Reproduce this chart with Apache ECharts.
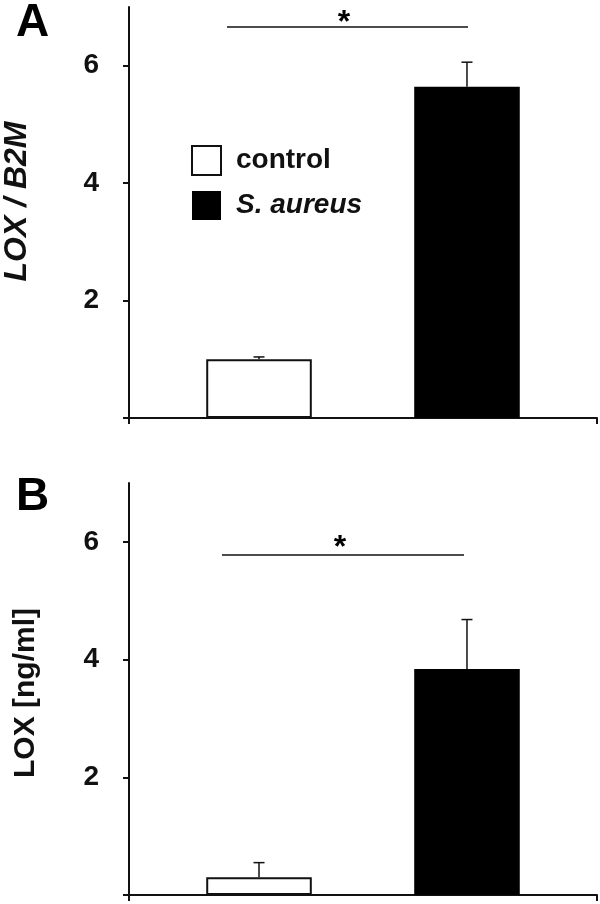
<!DOCTYPE html>
<html>
<head>
<meta charset="utf-8">
<script src="https://cdn.jsdelivr.net/npm/echarts@6/dist/echarts.min.js"></script>
<style>
  html, body { margin: 0; padding: 0; background: #fff; }
  #chart { width: 600px; height: 904px; }
</style>
</head>
<body>
<div id="chart"></div>
<script>
// data
const groups = ["control", "S. aureus"];
const loxB2m = [1.0, 5.64];
const loxB2mErr = [0.04, 0.42];
const loxConc = [0.30, 3.84];
const loxConcErr = [0.25, 0.84];
const yTicks = [0, 2, 4, 6];
const yLabels = [2, 4, 6];

const FONT = "Liberation Sans, Arial, sans-serif";
const catGap = 0.33;
const barGap = 0.97;

const chart = echarts.init(document.getElementById("chart"));

function yAxis(gridIndex, name, opts) {
  return {
    type: "value",
    gridIndex: gridIndex,
    min: 0,
    max: 7,
    interval: 2,
    name: name,
    nameLocation: "middle",
    nameGap: opts.gap,
    nameTextStyle: {
      fontFamily: FONT,
      fontWeight: "bold",
      fontStyle: opts.italic ? "italic" : "normal",
      fontSize: opts.size,
      color: "#111",
      padding: opts.pad,
    },
    axisLine: { show: true, lineStyle: { color: "#111", width: 2 } },
    axisTick: { show: true, length: 6, customValues: yTicks, lineStyle: { color: "#111", width: 2 } },
    axisLabel: {
      customValues: yLabels,
      margin: 30,
      fontFamily: FONT,
      fontWeight: "bold",
      fontSize: 28,
      color: "#111",
    },
    splitLine: { show: false },
  };
}

function xAxis(gridIndex) {
  return {
    type: "category",
    gridIndex: gridIndex,
    data: [""],
    axisLine: { lineStyle: { color: "#111", width: 2 } },
    axisTick: { show: true, length: 6, lineStyle: { color: "#111", width: 2 } },
    axisLabel: { show: false },
  };
}

function bars(gridIndex, values) {
  return [
    {
      type: "bar",
      name: groups[0],
      xAxisIndex: gridIndex,
      yAxisIndex: gridIndex,
      data: [values[0]],
      barCategoryGap: catGap * 100 + "%",
      barGap: barGap * 100 + "%",
      itemStyle: { color: "#fff", borderColor: "#111", borderWidth: 2 },
    },
    {
      type: "bar",
      name: groups[1],
      xAxisIndex: gridIndex,
      yAxisIndex: gridIndex,
      data: [values[1]],
      barCategoryGap: catGap * 100 + "%",
      barGap: barGap * 100 + "%",
      itemStyle: { color: "#000" },
    },
  ];
}

function errorBars(gridIndex, values, errs) {
  return {
    type: "custom",
    xAxisIndex: gridIndex,
    yAxisIndex: gridIndex,
    silent: true,
    encode: { x: 0, y: [1, 2] },
    data: values.map((v, i) => [0, v, v + errs[i], i]),
    renderItem: function (params, api) {
      const i = api.value(3);
      const band = api.size([1, 0])[0];
      const barW = band * (1 - catGap) / (2 + barGap);
      const offset = (i - 0.5) * barW * (1 + barGap);
      const p0 = api.coord([0, api.value(1)]);
      const p1 = api.coord([0, api.value(2)]);
      const x = p0[0] + offset;
      const style = { stroke: "#111", lineWidth: 1.5 };
      return {
        type: "group",
        children: [
          { type: "line", shape: { x1: x, y1: p0[1], x2: x, y2: p1[1] }, style: style },
          { type: "line", shape: { x1: x - 5.5, y1: p1[1], x2: x + 5.5, y2: p1[1] }, style: style },
        ],
      };
    },
    z: 3,
  };
}

let option = {
  animation: false,
  backgroundColor: "#fff",
  grid: [
    { left: 129, top: 7, width: 468, height: 411, outerBoundsMode: "none", containLabel: false },
    { left: 129, top: 483, width: 468, height: 412, outerBoundsMode: "none", containLabel: false },
  ],
  xAxis: [xAxis(0), xAxis(1)],
  yAxis: [
    yAxis(0, "LOX / B2M", { italic: true, size: 32, gap: 96, pad: [0, 0, 0, 22] }),
    yAxis(1, "LOX [ng/ml]", { italic: false, size: 30, gap: 88, pad: [0, 8, 0, 0] }),
  ],
  legend: {
    orient: "vertical",
    left: 191,
    top: 145,
    padding: 0,
    itemWidth: 29,
    itemHeight: 29,
    itemGap: 15,
    selectedMode: false,
    data: [
      { name: groups[0], icon: "rect", textStyle: { fontStyle: "normal" } },
      { name: groups[1], icon: "rect", textStyle: { fontStyle: "italic" } },
    ],
    textStyle: {
      fontFamily: FONT,
      fontWeight: "bold",
      fontSize: 28,
      color: "#111",
      padding: [0, 0, 0, 10],
    },
  },
  graphic: [
    { type: "text", left: 16, top: 0, style: { text: "A", font: "bold 46px " + FONT, fill: "#000" } },
    { type: "text", left: 16, top: 474, style: { text: "B", font: "bold 46px " + FONT, fill: "#000" } },
    // significance bars
    { type: "line", shape: { x1: 227, y1: 27, x2: 468, y2: 27 }, style: { stroke: "#111", lineWidth: 1.5 } },
    { type: "text", x: 344, y: 7, style: { text: "*", font: "bold 32px " + FONT, fill: "#000", align: "center" } },
    { type: "line", shape: { x1: 222, y1: 555, x2: 464, y2: 555 }, style: { stroke: "#111", lineWidth: 1.5 } },
    { type: "text", x: 340, y: 532, style: { text: "*", font: "bold 32px " + FONT, fill: "#000", align: "center" } },
  ],
  series: [
    ...bars(0, loxB2m),
    errorBars(0, loxB2m, loxB2mErr),
    ...bars(1, loxConc),
    errorBars(1, loxConc, loxConcErr),
  ],
};

chart.setOption(option);
</script>
</body>
</html>
